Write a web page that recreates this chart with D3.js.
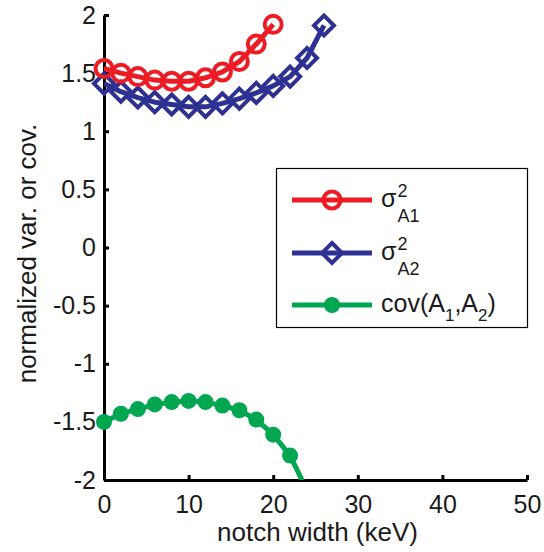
<!DOCTYPE html>
<html>
<head>
<meta charset="utf-8">
<script src="https://cdn.jsdelivr.net/npm/d3@7"></script>
<style>
  html, body { margin: 0; padding: 0; background: #fff; }
  svg { display: block; font-family: "Liberation Sans", Arial, Helvetica, sans-serif; }
</style>
</head>
<body>
<svg id="chart" width="544" height="552"></svg>
<script>
// ---- data ----
const xA1 = [0, 2, 4, 6, 8, 10, 12, 14, 16, 18, 20];
const varA1 = [1.54, 1.50, 1.47, 1.44, 1.43, 1.43, 1.46, 1.51, 1.60, 1.75, 1.92];
const xA2 = [0, 2, 4, 6, 8, 10, 12, 14, 16, 18, 20, 22, 24, 26];
const varA2 = [1.41, 1.34, 1.29, 1.25, 1.23, 1.21, 1.21, 1.24, 1.28, 1.33, 1.39, 1.47, 1.63, 1.91];
const xCov = [0, 2, 4, 6, 8, 10, 12, 14, 16, 18, 20, 22, 24];
const covA = [-1.50, -1.43, -1.39, -1.35, -1.33, -1.32, -1.33, -1.36, -1.40, -1.48, -1.61, -1.79, -2.09];
const xTicks = [0, 10, 20, 30, 40, 50];
const yTicks = [-2, -1.5, -1, -0.5, 0, 0.5, 1, 1.5, 2];

const colors = { a1: "#ed1c24", a2: "#2e3192", cov: "#00a650" };
const textColor = "#1a1a1a";

// ---- layout ----
const svg = d3.select("#chart");
const L = 104, R = 527, T = 15, B = 480;
const x = d3.scaleLinear().domain([0, 50]).range([L, R]);
const y = d3.scaleLinear().domain([-2, 2]).range([B, T]);

svg.append("defs").append("clipPath").attr("id", "plotclip")
  .append("rect").attr("x", L).attr("y", T).attr("width", R - L).attr("height", B - T);

// axes
const fs = 25;
const gx = svg.append("g").attr("transform", `translate(0,${B})`)
  .call(d3.axisBottom(x).tickValues(xTicks).tickFormat(d3.format("d")).tickSizeInner(-5).tickSizeOuter(0).tickPadding(15));
const gy = svg.append("g").attr("transform", `translate(${L},0)`)
  .call(d3.axisLeft(y).tickValues(yTicks).tickFormat(d => d3.format("")(d)).tickSizeInner(-5).tickSizeOuter(0).tickPadding(8));
[gx, gy].forEach(g => {
  g.select(".domain").attr("stroke", "#000").attr("stroke-width", 3);
  g.selectAll(".tick line").attr("stroke", "#000").attr("stroke-width", 3);
  g.selectAll(".tick text").attr("fill", textColor).attr("font-size", fs)
    .attr("font-family", "Liberation Sans, Arial, sans-serif");
});
gy.selectAll(".tick text").text(d => d < 0 ? "-" + String(Math.abs(d)) : String(d));

// axis titles
svg.append("text").attr("x", (L + R) / 2 + 2).attr("y", 541)
  .attr("text-anchor", "middle").attr("font-size", 26).attr("fill", textColor)
  .text("notch width (keV)");
svg.append("text").attr("transform", `translate(36,${(T + B) / 2 + 6}) rotate(-90)`)
  .attr("text-anchor", "middle").attr("font-size", 26).attr("fill", textColor)
  .text("normalized var. or cov.");

// series
const plot = svg.append("g").attr("clip-path", "url(#plotclip)");
const line = d3.line().x(d => x(d[0])).y(d => y(d[1]));
const lw = 5;

function series(xs, ys, color, marker) {
  const pts = xs.map((d, i) => [d, ys[i]]);
  plot.append("path").datum(pts).attr("d", line)
    .attr("fill", "none").attr("stroke", color).attr("stroke-width", lw).attr("stroke-linejoin", "round");
  const inside = pts.filter(p => p[1] >= -2 && p[1] <= 2);
  drawMarkers(svg, inside.map(p => [x(p[0]), y(p[1])]), color, marker);
}
function drawMarkers(g, pxs, color, marker) {
  if (marker === "circle") {
    g.selectAll(null).data(pxs).enter().append("circle")
      .attr("cx", d => d[0]).attr("cy", d => d[1]).attr("r", 8.5)
      .attr("fill", "none").attr("stroke", color).attr("stroke-width", 4);
  } else if (marker === "diamond") {
    const s = 10;
    g.selectAll(null).data(pxs).enter().append("path")
      .attr("d", d => `M${d[0]},${d[1] - s}L${d[0] + s},${d[1]}L${d[0]},${d[1] + s}L${d[0] - s},${d[1]}Z`)
      .attr("fill", "none").attr("stroke", color).attr("stroke-width", 4).attr("stroke-linejoin", "miter");
  } else {
    g.selectAll(null).data(pxs).enter().append("circle")
      .attr("cx", d => d[0]).attr("cy", d => d[1]).attr("r", 8)
      .attr("fill", color);
  }
}
series(xCov, covA, colors.cov, "dot");
series(xA2, varA2, colors.a2, "diamond");
series(xA1, varA1, colors.a1, "circle");

// legend
const lg = svg.append("g");
lg.append("rect").attr("x", 276.5).attr("y", 168.5).attr("width", 251).attr("height", 159)
  .attr("fill", "#fff").attr("stroke", "#000").attr("stroke-width", 1.2);
const rows = [
  { y: 200, color: colors.a1, marker: "circle", sub: "A1" },
  { y: 253, color: colors.a2, marker: "diamond", sub: "A2" },
  { y: 305, color: colors.cov, marker: "dot" }
];
rows.forEach(r => {
  lg.append("line").attr("x1", 292).attr("x2", 372).attr("y1", r.y).attr("y2", r.y)
    .attr("stroke", r.color).attr("stroke-width", lw);
  drawMarkers(lg, [[332, r.y]], r.color, r.marker);
  if (r.sub) {
    const t = lg.append("text").attr("x", 381).attr("y", r.y + 7).attr("font-size", 25).attr("fill", textColor).text("σ");
    const w = t.node().getComputedTextLength();
    lg.append("text").attr("x", 381 + w + 1).attr("y", r.y - 3).attr("font-size", 18).attr("fill", textColor).text("2");
    lg.append("text").attr("x", 381 + w + 1).attr("y", r.y + 22).attr("font-size", 18).attr("fill", textColor).text(r.sub);
  } else {
    const t = lg.append("text").attr("x", 381).attr("y", r.y + 7).attr("font-size", 25).attr("fill", textColor);
    t.append("tspan").text("cov(A");
    t.append("tspan").attr("font-size", 17).attr("dy", 9).text("1");
    t.append("tspan").attr("dy", -9).text(",A");
    t.append("tspan").attr("font-size", 17).attr("dy", 9).text("2");
    t.append("tspan").attr("dy", -9).text(")");
  }
});
</script>
</body>
</html>
